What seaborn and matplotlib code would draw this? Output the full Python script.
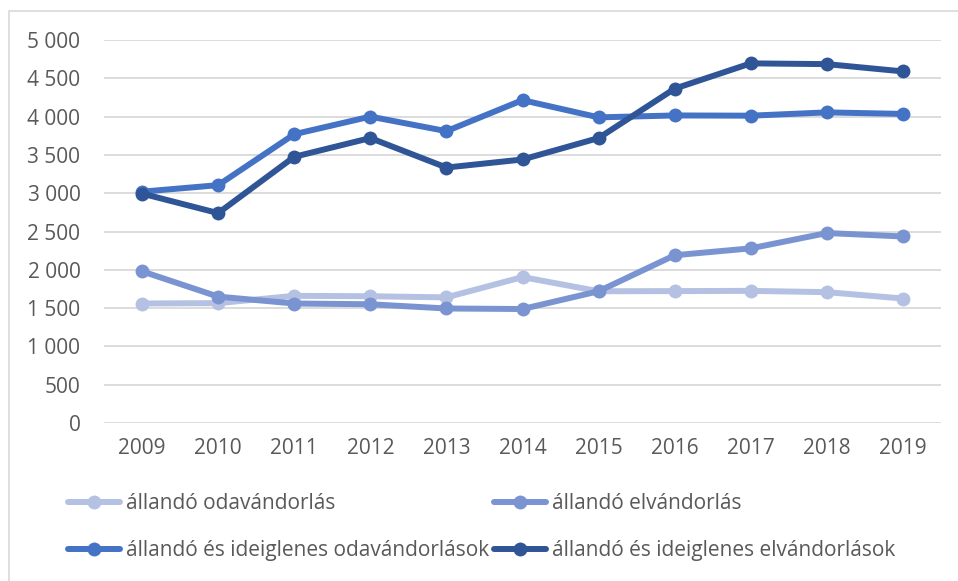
import matplotlib
matplotlib.use("Agg")
import matplotlib.pyplot as plt
import matplotlib.ticker as mticker
from matplotlib.patches import Rectangle
import seaborn as sns
import pandas as pd

years = [2009, 2010, 2011, 2012, 2013, 2014, 2015, 2016, 2017, 2018, 2019]
allando_oda = [1560, 1565, 1660, 1655, 1640, 1905, 1720, 1722, 1725, 1708, 1625]
allando_el = [1980, 1650, 1560, 1550, 1495, 1488, 1720, 2190, 2280, 2480, 2435]
ideigl_oda = [3020, 3105, 3770, 4000, 3810, 4215, 3990, 4015, 4012, 4055, 4035]
ideigl_el = [2995, 2740, 3475, 3720, 3335, 3440, 3720, 4365, 4695, 4685, 4590]

labels = ["állandó odavándorlás", "állandó elvándorlás",
          "állandó és ideiglenes odavándorlások", "állandó és ideiglenes elvándorlások"]
series = [allando_oda, allando_el, ideigl_oda, ideigl_el]
colors = ["#B4C1E2", "#7A93D1", "#4472C4", "#2F5597"]
yticks = [0, 500, 1000, 1500, 2000, 2500, 3000, 3500, 4000, 4500, 5000]

sns.set_theme(style="white")
plt.rcParams['font.family'] = ['Open Sans', 'DejaVu Sans']

fig = plt.figure(figsize=(9.58, 5.81), dpi=100)
fig.patches.append(Rectangle((9/958, -0.1), 1.2, 1 - 11/581 + 0.1, transform=fig.transFigure,
                             fill=False, edgecolor="#D9D9D9", linewidth=1.2, zorder=0))
ax = fig.add_axes([104/958, 1 - 423/581, (941 - 104)/958, (423 - 40)/581])

handles = {}
for lab, vals, col in zip(labels, series, colors):
    df = pd.DataFrame({"year": years, "value": vals})
    sns.lineplot(data=df, x="year", y="value", ax=ax, color=col, linewidth=4.3,
                 marker="o", markersize=10, markeredgewidth=0, label=lab, legend=False)
lines = ax.get_lines()
for ln, lab in zip(lines, labels):
    handles[lab] = ln

ax.set_xlim(2008.5, 2019.5)
ax.set_ylim(0, 5000)
ax.set_yticks(yticks)
ax.set_xticks(years)
ax.yaxis.set_major_formatter(mticker.FuncFormatter(lambda v, p: f"{int(v):,}".replace(",", " ")))
ax.grid(axis="y", color="#D9D9D9", linewidth=1.3)
ax.set_axisbelow(True)
for s in ax.spines.values():
    s.set_visible(False)
ax.tick_params(axis="y", length=0, pad=17, labelsize=15, labelcolor="#595959")
ax.tick_params(axis="x", length=0, pad=11, labelsize=15, labelcolor="#595959")
ax.set_xlabel("")
ax.set_ylabel("")

order = [labels[0], labels[2], labels[1], labels[3]]
leg = fig.legend([handles[l] for l in order], order, ncol=2, loc="upper left",
                 bbox_to_anchor=(68/958, 1 - 493/581), frameon=False, fontsize=15,
                 handlelength=2.5, handletextpad=0.3, columnspacing=0.2,
                 labelspacing=1.25, borderpad=0, borderaxespad=0)
for t in leg.get_texts():
    t.set_color("#595959")

fig.savefig("out.png", dpi=100)
